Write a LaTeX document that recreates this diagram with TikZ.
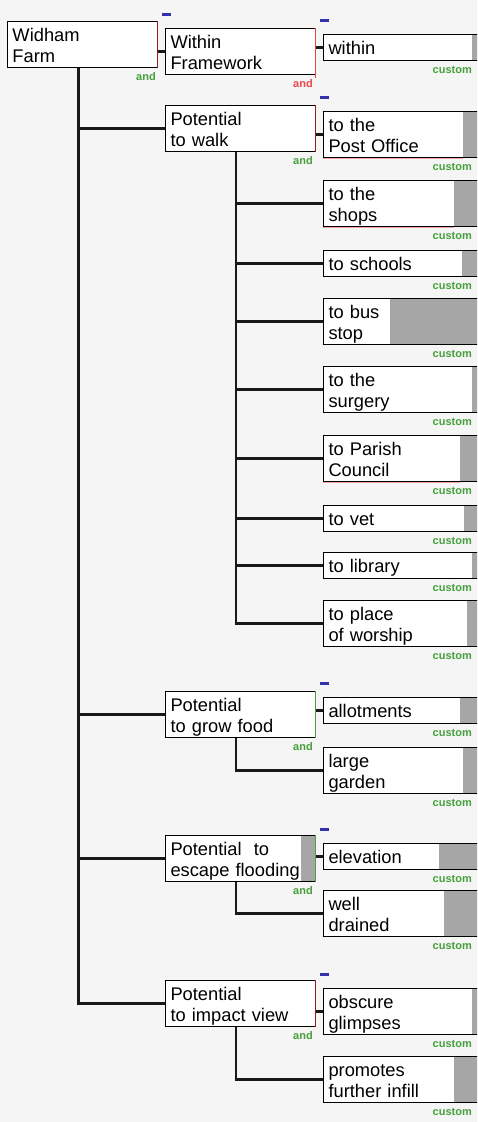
\documentclass[tikz,border=0pt]{standalone}
\usepackage{fontspec}
\setmainfont{Liberation Sans}
\usepackage{tikz}
\usetikzlibrary{
        calc,
        positioning
    }
\definecolor{pagebg}{RGB}{245,245,245}
\definecolor{bargray}{RGB}{166,166,166}
\definecolor{andgreen}{RGB}{70,160,60}
\definecolor{tagred}{RGB}{235,70,70}
\definecolor{edgered}{RGB}{150,30,30}
\definecolor{minusblue}{RGB}{50,50,170}
\tikzset{x=1pt,y=-1pt}
\tikzset{
    box/.style={draw,fill=white,line width=1pt,anchor=north west,outer sep=0pt,
        inner xsep=5.5pt,inner ysep=0pt,text height=20.5pt,align=left,
        font=\fontsize{18.3}{21}\selectfont},
    goal/.style={box,text width=139pt},
    leaf/.style={box,text width=146pt},
    oneline/.style={text depth=6pt},
    twoline/.style={text depth=26pt},
    link/.style={line width=2.8pt,draw=black!90},
    elbow/.style={to path={(\tikztostart) |- (\tikztotarget)}},
    andtag/.style={anchor=east,inner sep=0pt,text=andgreen,
        font=\fontsize{11}{10}\selectfont\bfseries},
    customtag/.style={andtag,font=\fontsize{11}{10}\selectfont\bfseries},
    collapse/.style={fill=minusblue,minimum width=9pt,minimum height=3pt,inner sep=0pt}
}

\begin{document}
\begin{tikzpicture}
    \useasboundingbox (0,0) rectangle (477,1122);
    \clip (0,0) rectangle (477,1122);
    \fill[pagebg] (0,0) rectangle (477,1122);

    \node[goal,twoline] (root)    at (7,21)    {Widham\\Farm};
    \node[goal,twoline] (frame)   at (165,28)  {Within\\Framework};
    \node[leaf,oneline] (within)  at (323,34)  {within};
    \node[goal,twoline] (walk)    at (165,105) {Potential\\to walk};
    \node[leaf,twoline] (post)    at (323,111) {to the\\Post Office};
    \node[leaf,twoline] (shops)   at (323,180) {to the\\shops};
    \node[leaf,oneline] (schools) at (323,250) {to schools};
    \node[leaf,twoline] (bus)     at (323,298) {to bus\\stop};
    \node[leaf,twoline] (surgery) at (323,366) {to the\\surgery};
    \node[leaf,twoline] (parish)  at (323,435) {to Parish\\Council};
    \node[leaf,oneline] (vet)     at (323,505) {to vet};
    \node[leaf,oneline] (library) at (323,552) {to library};
    \node[leaf,twoline] (worship) at (323,600) {to place\\of worship};
    \node[goal,twoline] (grow)    at (165,691) {Potential\\to grow food};
    \node[leaf,oneline] (allot)   at (323,697) {allotments};
    \node[leaf,twoline] (garden)  at (323,747) {large\\garden};
    \node[goal,twoline] (flood)   at (165,835) {Potential\ \ to\\escape flooding};
    \node[leaf,oneline] (elev)    at (323,843) {elevation};
    \node[leaf,twoline] (drained) at (323,890) {well\\drained};
    \node[goal,twoline] (impact)  at (165,980) {Potential\\to impact view};
    \node[leaf,twoline] (obscure) at (323,988) {obscure\\glimpses};
    \node[leaf,twoline] (infill)  at (323,1056) {promotes\\further infill};

    % weight bars
    \foreach \n/\bx in {within/472,post/463,shops/454,schools/462,bus/390,
            surgery/472,parish/460,vet/464,library/472,worship/467,allot/460,
            garden/463,elev/439,drained/444,obscure/472,infill/454,flood/301}
        \fill[bargray] ($(\bx,0 |- \n.north east)+(0,0.5)$) rectangle ($(\n.south east)+(-0.5,-0.5)$);

    \path[link]
        (root.east |- frame.west)          edge (frame.west)
        ([xshift=71.5pt]root.south west)   edge[elbow] (walk.west)
        ([xshift=71.5pt]root.south west)   edge[elbow] (grow.west)
        ([xshift=71.5pt]root.south west)   edge[elbow] (flood.west)
        ([xshift=71.5pt]root.south west)   edge[elbow] (impact.west)
        (frame.east |- within.west)        edge (within.west)
        (walk.east |- post.west)           edge (post.west)
        ([xshift=71pt]walk.south west)     edge[elbow] (shops.west)
        ([xshift=71pt]walk.south west)     edge[elbow] (schools.west)
        ([xshift=71pt]walk.south west)     edge[elbow] (bus.west)
        ([xshift=71pt]walk.south west)     edge[elbow] (surgery.west)
        ([xshift=71pt]walk.south west)     edge[elbow] (parish.west)
        ([xshift=71pt]walk.south west)     edge[elbow] (vet.west)
        ([xshift=71pt]walk.south west)     edge[elbow] (library.west)
        ([xshift=71pt]walk.south west)     edge[elbow] (worship.west)
        (grow.east |- allot.west)          edge (allot.west)
        ([xshift=71pt]grow.south west)     edge[elbow] (garden.west)
        (flood.east |- elev.west)          edge (elev.west)
        ([xshift=71pt]flood.south west)    edge[elbow] (drained.west)
        (impact.east |- obscure.west)      edge (obscure.west)
        ([xshift=71pt]impact.south west)   edge[elbow] (infill.west)
    ;

    % coloured edges
    \draw[edgered,line width=0.8pt] (root.north east) -- (root.south east);
    \draw[tagred,line width=0.8pt] (frame.north east) -- ([yshift=-3pt]frame.south east);
    \draw[edgered,line width=0.8pt] (walk.north east) -- (walk.south east);
    \draw[andgreen,line width=0.8pt] (grow.north east) -- (grow.south east);
    \draw[andgreen,line width=0.8pt] (flood.north east) -- (flood.south east);
    \draw[edgered,line width=0.8pt] (impact.north east) -- (impact.south east);
    \draw[tagred!50,line width=0.5pt] ([yshift=-1pt]post.south west) -- ([yshift=-1pt]463,0 |- post.south west);
    \draw[tagred!50,line width=0.5pt] ([yshift=-1pt]shops.south west) -- ([yshift=-1pt]454,0 |- shops.south west);
    \draw[tagred!50,line width=0.5pt] ([yshift=-1pt]parish.south west) -- ([yshift=-1pt]460,0 |- parish.south west);

    % collapse marks
    \node[collapse] (m1) at ([xshift=1pt,yshift=13.5pt]frame.north west) {};
    \node[collapse] (m2) at ([xshift=1pt,yshift=13.5pt]within.north west) {};
    \node[collapse] (m3) at ([xshift=1pt,yshift=13.5pt]post.north west) {};
    \node[collapse] (m4) at ([xshift=1pt,yshift=13.5pt]allot.north west) {};
    \node[collapse] (m5) at ([xshift=1pt,yshift=13.5pt]elev.north west) {};
    \node[collapse] (m6) at ([xshift=1pt,yshift=13.5pt]obscure.north west) {};

    % and tags
    \node[andtag] (a1) at ([xshift=-1pt,yshift=-9pt]root.south east) {and};
    \node[andtag,text=tagred] (a2) at ([xshift=-2pt,yshift=-9pt]frame.south east) {and};
    \node[andtag] (a3) at ([xshift=-2pt,yshift=-9pt]walk.south east) {and};
    \node[andtag] (a4) at ([xshift=-2pt,yshift=-9pt]grow.south east) {and};
    \node[andtag] (a5) at ([xshift=-2pt,yshift=-9pt]flood.south east) {and};
    \node[andtag] (a6) at ([xshift=-2pt,yshift=-9pt]impact.south east) {and};

    \foreach \n in {within,post,shops,schools,bus,surgery,parish,vet,library,
            worship,allot,garden,elev,drained,obscure,infill}
        \node[customtag] at ([xshift=-8pt,yshift=-9.5pt]\n.south east) {custom};
\end{tikzpicture}
\end{document}
